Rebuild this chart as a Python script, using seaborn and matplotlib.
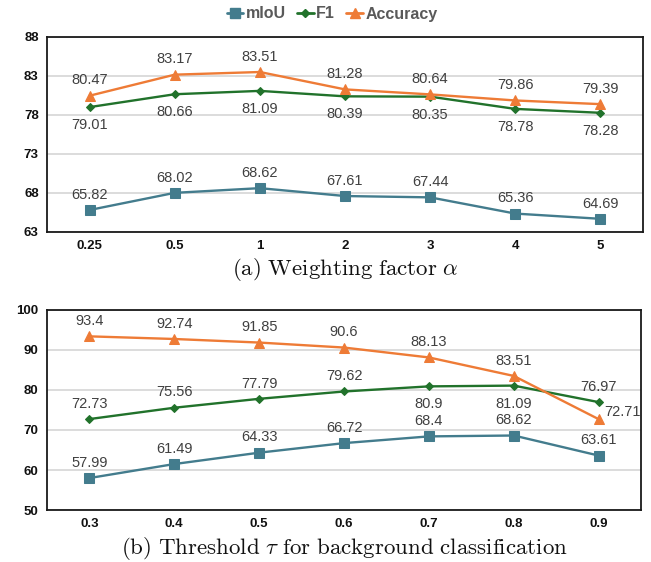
import numpy as np
import pandas as pd
import seaborn as sns
import matplotlib
matplotlib.use("Agg")
import matplotlib.pyplot as plt
from matplotlib.lines import Line2D

# ---- data ----
alpha_labels = ["0.25", "0.5", "1", "2", "3", "4", "5"]
alpha_miou = [65.82, 68.02, 68.62, 67.61, 67.44, 65.36, 64.69]
alpha_f1 = [79.01, 80.66, 81.09, 80.39, 80.35, 78.78, 78.28]
alpha_acc = [80.47, 83.17, 83.51, 81.28, 80.64, 79.86, 79.39]

tau_labels = ["0.3", "0.4", "0.5", "0.6", "0.7", "0.8", "0.9"]
tau_miou = [57.99, 61.49, 64.33, 66.72, 68.4, 68.62, 63.61]
tau_f1 = [72.73, 75.56, 77.79, 79.62, 80.9, 81.09, 76.97]
tau_acc = [93.4, 92.74, 91.85, 90.6, 88.13, 83.51, 72.71]

series_names = ["mIoU", "F1", "Accuracy"]

# ---- styles ----
sns.set_theme(style="white")
plt.rcParams["font.family"] = ["Liberation Sans", "DejaVu Sans"]
plt.rcParams["mathtext.fontset"] = "cm"

colors = {"mIoU": "#437C8D", "F1": "#21722B", "Accuracy": "#EE7B36"}
markers = {"mIoU": "s", "F1": "D", "Accuracy": "^"}
msizes = {"mIoU": 7, "F1": 4.5, "Accuracy": 7.5}
label_color = "#404040"

# label offsets in points (dx, dy) per series per point
off_a = {
    "mIoU": [(0, 11)] * 7,
    "F1": [(0, -13)] * 7,
    "Accuracy": [(0, 11)] * 7,
}
off_b = {
    "mIoU": [(0, 11)] * 7,
    "F1": [(0, 11), (0, 11), (0, 11), (0, 11), (0, -13), (0, -13), (0, 11)],
    "Accuracy": [(0, 11), (0, 11), (0, 11), (0, 11), (0, 11), (0, 11), (17, 5)],
}

fig = plt.figure(figsize=(6.51, 5.62), dpi=100)
ax1 = fig.add_axes([0.0722, 0.5872, 0.9155, 0.347])
ax2 = fig.add_axes([0.0722, 0.0925, 0.9125, 0.356])


def draw(ax, cats, vals, offsets, ylim, yticks, caption):
    df = pd.DataFrame({
        "x": cats * 3,
        "value": vals["mIoU"] + vals["F1"] + vals["Accuracy"],
        "series": ["mIoU"] * 7 + ["F1"] * 7 + ["Accuracy"] * 7,
    })
    for name in series_names:
        sub = df[df["series"] == name]
        sns.lineplot(data=sub, x="x", y="value", ax=ax, color=colors[name],
                     marker=markers[name], markersize=msizes[name],
                     markeredgecolor=colors[name], linewidth=1.7,
                     label=name, legend=False, sort=False)
        for i, (c, v) in enumerate(zip(sub["x"], sub["value"])):
            dx, dy = offsets[name][i]
            ax.annotate(f"{v:g}", (i, v), xytext=(dx, dy), textcoords="offset points",
                        ha="center", va="center", fontsize=10.5, color=label_color)
    ax.set_xlim(-0.5, 6.5)
    ax.set_ylim(*ylim)
    ax.set_yticks(yticks)
    ax.set_xlabel("")
    ax.set_ylabel("")
    ax.yaxis.grid(True, color="#D9D9D9", linewidth=1.3)
    ax.xaxis.grid(False)
    ax.set_axisbelow(True)
    for s in ax.spines.values():
        s.set_color("#1a1a1a")
        s.set_linewidth(1.3)
    ax.tick_params(axis="both", length=0, labelsize=9.5, colors="#111111", pad=6)
    for t in ax.get_xticklabels() + ax.get_yticklabels():
        t.set_fontweight("bold")
    ax.text(0.5, caption[1], caption[0], transform=ax.transAxes, ha="center",
            va="center", fontsize=16.5, color="#111111")


draw(ax1, alpha_labels, {"mIoU": alpha_miou, "F1": alpha_f1, "Accuracy": alpha_acc},
     off_a, (63, 88), [63, 68, 73, 78, 83, 88],
     (r"$\mathrm{(a)\ Weighting\ factor}\ \alpha$", -0.19))
draw(ax2, tau_labels, {"mIoU": tau_miou, "F1": tau_f1, "Accuracy": tau_acc},
     off_b, (50, 100), [50, 60, 70, 80, 90, 100],
     (r"$\mathrm{(b)\ Threshold}\ \tau\ \mathrm{for\ background\ classification}$", -0.19))

handles = [Line2D([0], [0], color=colors[n], marker=markers[n], markersize=msizes[n],
                  linewidth=2) for n in series_names]
leg = fig.legend(handles, series_names, loc="center", bbox_to_anchor=(0.51, 1 - 14 / 562),
                 ncol=3, frameon=False, fontsize=11.5, handlelength=1.05, handletextpad=0.15,
                 columnspacing=0.7)
for t in leg.get_texts():
    t.set_color("#595959")
    t.set_fontweight("bold")

fig.savefig("out.png", dpi=100)
